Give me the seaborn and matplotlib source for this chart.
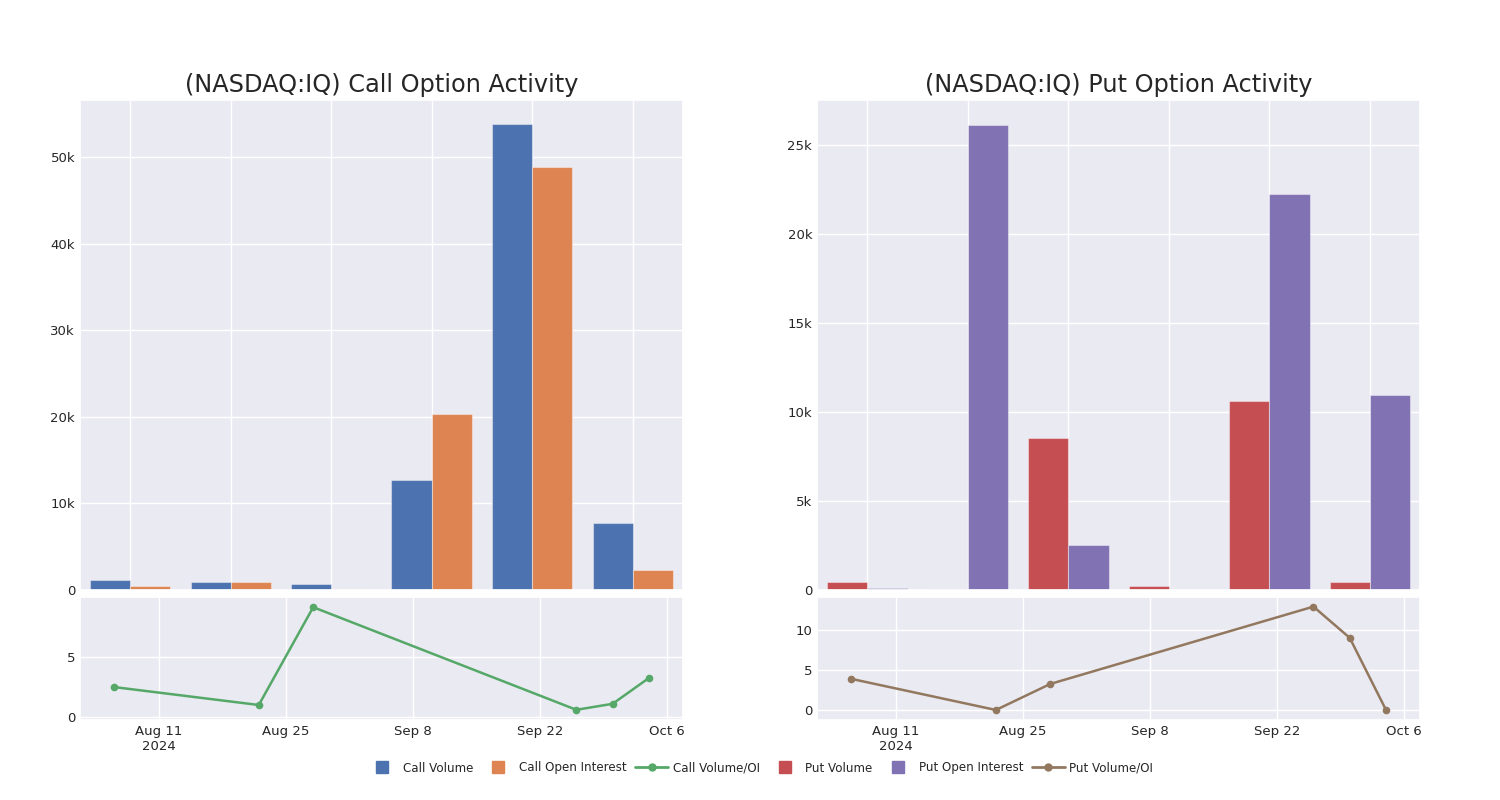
import matplotlib
matplotlib.use("Agg")
import matplotlib.pyplot as plt
import matplotlib.dates as mdates
from matplotlib.ticker import FuncFormatter, FixedLocator
from matplotlib.lines import Line2D
import seaborn as sns
import pandas as pd
import numpy as np

# ---- data ----
dates = ["2024-08-06", "2024-08-22", "2024-08-28", "2024-09-26", "2024-09-30", "2024-10-04"]
call_volume = [1100, 950, 680, 12650, 53800, 7750]
call_oi = [450, 950, 80, 20300, 48900, 2350]
call_ratio = [2.5, 1.0, 9.15, 0.6, 1.1, 3.25]
put_volume = [460, 30, 8550, 250, 10580, 470]
put_oi = [115, 26100, 2550, 20, 22250, 10950]
put_ratio = [3.9, 0.0, 3.25, 12.9, 9.0, 0.0]

tick_dates = ["2024-08-11", "2024-08-25", "2024-09-08", "2024-09-22", "2024-10-06"]
tick_labels = ["Aug 11\n2024", "Aug 25", "Sep 8", "Sep 22", "Oct 6"]

sns.set_theme(style="darkgrid")
plt.rcParams['font.family'] = ['DejaVu Sans']
pal = sns.color_palette("deep")
c_blue, c_orange, c_green, c_red, c_purple, c_brown = pal[0], pal[1], pal[2], pal[3], pal[4], pal[5]

fig = plt.figure(figsize=(15, 8), dpi=100)

def kfmt(v, pos):
    if v == 0:
        return "0"
    return f"{v/1000:g}k"

def make_panel(left, title, vol, oi, ratio, vol_name, oi_name, ratio_name,
               c_vol, c_oi, c_ratio, bar_ticks, bar_top, line_ticks, line_lim):
    ax_bar = fig.add_axes([left, 0.2625, 0.402, 0.6125])
    ax_line = fig.add_axes([left, 0.10, 0.402, 0.15375])

    df = pd.DataFrame({
        "date": dates * 2,
        "value": list(vol) + list(oi),
        "series": [vol_name] * len(dates) + [oi_name] * len(dates),
    })
    sns.barplot(data=df, x="date", y="value", hue="series",
                palette=[c_vol, c_oi], ax=ax_bar, width=0.8,
                edgecolor=(1, 1, 1, 0.4), linewidth=0.8, legend=False,
                saturation=1)
    ax_bar.set_xlim(-0.5, len(dates) - 0.5)
    ax_bar.set_ylim(0, bar_top)
    ax_bar.yaxis.set_major_locator(FixedLocator(bar_ticks))
    ax_bar.yaxis.set_major_formatter(FuncFormatter(kfmt))
    ax_bar.set_xticks(range(len(dates)))
    ax_bar.set_xticklabels([])
    ax_bar.xaxis.grid(True, color="white", linewidth=1.0)
    ax_bar.set_axisbelow(True)
    ax_bar.set_xlabel("")
    ax_bar.set_ylabel("")
    ax_bar.tick_params(axis="both", labelsize=9.5, colors="#262626", length=0)
    ax_bar.set_title(title, fontsize=17.3, color="#262626", pad=6)

    ldf = pd.DataFrame({"date": pd.to_datetime(dates), "ratio": ratio})
    sns.lineplot(data=ldf, x="date", y="ratio", ax=ax_line, color=c_ratio,
                 marker="o", markersize=5.5, markeredgewidth=0, linewidth=1.8)
    ax_line.set_xlim(pd.Timestamp("2024-08-02 07:00"), pd.Timestamp("2024-10-07 18:00"))
    ax_line.set_ylim(*line_lim)
    ax_line.xaxis.set_major_locator(FixedLocator(mdates.date2num(pd.to_datetime(tick_dates))))
    ax_line.set_xticklabels(tick_labels)
    ax_line.yaxis.set_major_locator(FixedLocator(line_ticks))
    ax_line.set_xlabel("")
    ax_line.set_ylabel("")
    ax_line.tick_params(axis="both", labelsize=9.5, colors="#262626", length=0)
    return ax_bar, ax_line

make_panel(0.0533, "(NASDAQ:IQ) Call Option Activity", call_volume, call_oi, call_ratio,
           "Call Volume", "Call Open Interest", "Call Volume/OI",
           c_blue, c_orange, c_green, [0, 10000, 20000, 30000, 40000, 50000], 56600,
           [0, 5], (-0.25, 10.0))
make_panel(0.5447, "(NASDAQ:IQ) Put Option Activity", put_volume, put_oi, put_ratio,
           "Put Volume", "Put Open Interest", "Put Volume/OI",
           c_red, c_purple, c_brown, [0, 5000, 10000, 15000, 20000, 25000], 27500,
           [0, 5, 10], (-1.25, 14.1))

def sq(color, label):
    return Line2D([0], [0], color=color, marker="s", markersize=8.5, lw=0, label=label)

handles = [
    sq(c_blue, "Call Volume"),
    sq(c_orange, "Call Open Interest"),
    Line2D([0], [0], color=c_green, marker="o", markersize=5, lw=2, label="Call Volume/OI"),
    sq(c_red, "Put Volume"),
    sq(c_purple, "Put Open Interest"),
    Line2D([0], [0], color=c_brown, marker="o", markersize=5, lw=2, label="Put Volume/OI"),
]
fig.legend(handles=handles, loc="center", bbox_to_anchor=(0.506, 0.04), ncol=6,
           frameon=False, fontsize=8.6, handlelength=2.8,
           columnspacing=0.7, handletextpad=0.35, labelcolor="#262626")

fig.savefig("out.png", dpi=100)
